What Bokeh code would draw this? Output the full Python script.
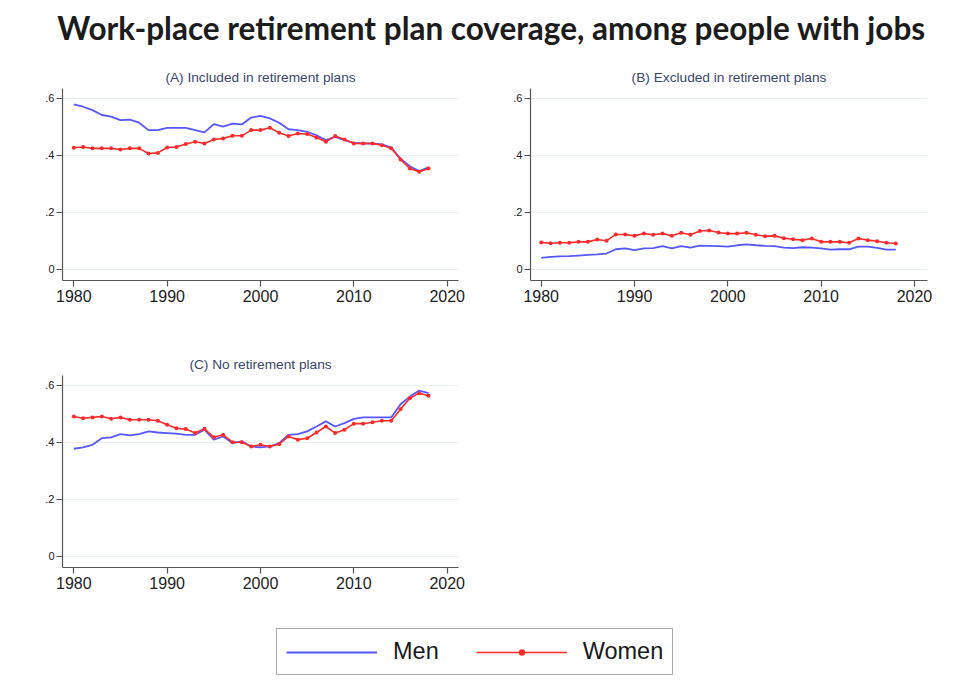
from bokeh.plotting import figure
from bokeh.layouts import column, row
from bokeh.models import (Range1d, FixedTicker, Label, Legend, LegendItem, Spacer)
from bokeh.embed import file_html
from bokeh.resources import INLINE

# ---- data -------------------------------------------------------------
years = list(range(1980, 2019))

included_men = [0.579, 0.571, 0.559, 0.542, 0.536, 0.524, 0.526, 0.515, 0.489, 0.489,
                0.497, 0.497, 0.497, 0.489, 0.481, 0.510, 0.501, 0.512, 0.509, 0.533,
                0.539, 0.530, 0.515, 0.492, 0.489, 0.483, 0.471, 0.454, 0.465, 0.454,
                0.444, 0.442, 0.442, 0.439, 0.428, 0.389, 0.362, 0.345, 0.358]
included_women = [0.427, 0.430, 0.425, 0.425, 0.425, 0.421, 0.425, 0.425, 0.407, 0.409,
                  0.428, 0.430, 0.440, 0.448, 0.442, 0.456, 0.460, 0.469, 0.469, 0.489,
                  0.489, 0.497, 0.480, 0.468, 0.477, 0.475, 0.463, 0.448, 0.468, 0.456,
                  0.442, 0.442, 0.442, 0.436, 0.425, 0.386, 0.354, 0.343, 0.354]

excluded_men = [0.041, 0.044, 0.046, 0.047, 0.049, 0.051, 0.053, 0.056, 0.071, 0.074,
                0.068, 0.074, 0.075, 0.082, 0.074, 0.082, 0.077, 0.084, 0.083, 0.082,
                0.080, 0.085, 0.088, 0.085, 0.083, 0.082, 0.077, 0.075, 0.078, 0.077,
                0.074, 0.070, 0.071, 0.071, 0.080, 0.080, 0.076, 0.070, 0.070]
excluded_women = [0.095, 0.092, 0.094, 0.094, 0.097, 0.097, 0.105, 0.101, 0.123, 0.123,
                  0.118, 0.126, 0.122, 0.126, 0.118, 0.129, 0.122, 0.135, 0.137, 0.130,
                  0.126, 0.126, 0.129, 0.122, 0.117, 0.118, 0.110, 0.106, 0.103, 0.109,
                  0.097, 0.097, 0.097, 0.094, 0.109, 0.103, 0.099, 0.094, 0.091]

none_men = [0.378, 0.383, 0.392, 0.415, 0.418, 0.429, 0.425, 0.429, 0.439, 0.435,
            0.433, 0.431, 0.427, 0.427, 0.445, 0.410, 0.421, 0.398, 0.404, 0.386,
            0.383, 0.386, 0.398, 0.427, 0.429, 0.439, 0.456, 0.474, 0.456, 0.468,
            0.483, 0.488, 0.488, 0.488, 0.488, 0.534, 0.561, 0.582, 0.573]
none_women = [0.491, 0.485, 0.488, 0.491, 0.483, 0.488, 0.480, 0.480, 0.480, 0.476,
              0.462, 0.450, 0.447, 0.433, 0.448, 0.418, 0.427, 0.401, 0.401, 0.386,
              0.392, 0.386, 0.394, 0.421, 0.410, 0.415, 0.435, 0.456, 0.433, 0.445,
              0.466, 0.466, 0.471, 0.476, 0.476, 0.517, 0.555, 0.573, 0.564]

x_ticks = [1980, 1990, 2000, 2010, 2020]
y_ticks = [0.0, 0.2, 0.4, 0.6]
y_tick_labels = ["0", ".2", ".4", ".6"]

series_names = ["Men", "Women"]
panel_titles = ["(A) Included in retirement plans",
                "(B) Excluded in retirement plans",
                "(C) No retirement plans"]
main_title = "Work-place retirement plan coverage, among people with jobs"

# ---- style ------------------------------------------------------------
BLUE = "#5757ff"
RED = "#ff2b2b"
AXIS = "#555555"
TICK_TEXT = "#222222"
GRID = "#e9f0f2"
SUB = "#3a4670"
FONT = "Liberation Sans"


def blank(width, height):
    f = figure(width=width, height=height, x_range=Range1d(0, 1), y_range=Range1d(0, 1),
               x_axis_type=None, y_axis_type=None, output_backend="svg",
               toolbar_location=None, min_border=0)
    f.outline_line_color = None
    f.background_fill_color = "white"
    f.border_fill_color = "white"
    return f


def panel(title, men, women, width, left, right, xr):
    p = figure(width=width, height=287, x_range=Range1d(*xr),
               y_range=Range1d(-0.0386, 0.635), output_backend="svg",
               toolbar_location=None, min_border_left=left, min_border_right=right,
               min_border_top=40, min_border_bottom=55, title=title)
    p.outline_line_color = None
    p.background_fill_color = "white"
    p.border_fill_color = "white"

    p.title.align = "center"
    p.title.text_font = FONT
    p.title.text_font_size = "13.7px"
    p.title.text_font_style = "normal"
    p.title.text_color = SUB
    p.title.standoff = 8

    p.xaxis.ticker = FixedTicker(ticks=x_ticks)
    p.yaxis.ticker = FixedTicker(ticks=y_ticks)
    p.yaxis.major_label_overrides = dict(zip(y_ticks, y_tick_labels))
    for ax in (p.xaxis, p.yaxis):
        ax.axis_line_color = AXIS
        ax.axis_line_width = 1.2
        ax.major_tick_line_color = AXIS
        ax.major_tick_line_width = 1.2
        ax.major_tick_out = 6
        ax.major_tick_in = 0
        ax.minor_tick_out = 0
        ax.minor_tick_in = 0
        ax.major_label_text_font = FONT
        ax.major_label_text_color = TICK_TEXT
    p.xaxis.major_label_text_font_size = "16px"
    p.xaxis.major_label_standoff = 3
    p.yaxis.major_label_text_font_size = "11px"
    p.yaxis.major_label_standoff = 2

    p.xgrid.visible = False
    p.ygrid.ticker = FixedTicker(ticks=y_ticks)
    p.ygrid.grid_line_color = GRID
    p.ygrid.grid_line_width = 1

    p.line(years, men, color=BLUE, line_width=1.8)
    p.line(years, women, color=RED, line_width=1.6)
    p.scatter(years, women, size=4, color=RED, line_width=0)
    return p


# ---- title ------------------------------------------------------------
head = blank(953, 48)
head.add_layout(Label(x=491, y=21, x_units="screen", y_units="screen", text=main_title,
                      text_align="center", text_baseline="alphabetic",
                      text_font="Lato", text_font_style="bold",
                      text_font_size="31.5px", text_color="#1c1c1c"))

# ---- panels -----------------------------------------------------------
pa = panel(panel_titles[0], included_men, included_women, 476, 62, 18, (1978.79, 2021.21))
pb = panel(panel_titles[1], excluded_men, excluded_women, 477, 54, 26, (1978.85, 2021.4))
pc = panel(panel_titles[2], none_men, none_women, 476, 62, 18, (1978.79, 2021.21))

# ---- legend (series drawn outside the visible range, only keys show) ---
leg = blank(953, 61)
r_men = leg.line(years, none_men, color=BLUE, line_width=2)
r_wl = leg.line(years, none_women, color=RED, line_width=1.6)
r_wm = leg.scatter(years, none_women, color=RED, size=4, line_width=0)
legend = Legend(items=[LegendItem(label=series_names[0], renderers=[r_men]),
                       LegendItem(label=series_names[1], renderers=[r_wl, r_wm])],
                orientation="horizontal", location=(276, 8), margin=0,
                glyph_width=91, glyph_height=16, label_standoff=16, spacing=37,
                padding=9, label_text_font=FONT, label_text_font_size="23.5px",
                label_text_color="#1a1a1a", border_line_color=AXIS,
                border_line_width=1.2, background_fill_color="white")
leg.add_layout(legend, "center")

page = column(head, row(pa, pb), row(pc, Spacer(width=477, height=287)), leg)

open("out.html", "w").write(file_html(page, INLINE))
